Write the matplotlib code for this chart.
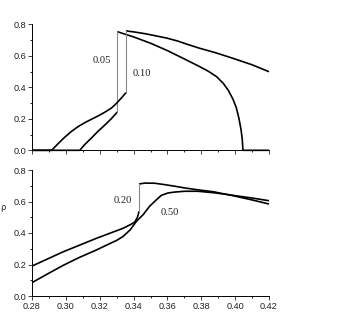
import matplotlib
matplotlib.use("Agg")
import matplotlib.pyplot as plt
from matplotlib.ticker import MultipleLocator

# top panel: eps = 0.05 and 0.10, lower and upper branches
low05_x = [0.28, 0.3082, 0.3111, 0.3151, 0.3190, 0.3229, 0.3269, 0.3304]
low05_y = [0.0, 0.0, 0.036, 0.078, 0.121, 0.159, 0.201, 0.243]
up05_x = [0.3304, 0.340, 0.350, 0.360, 0.370, 0.378, 0.384, 0.389, 0.393,
          0.396, 0.3987, 0.4007, 0.4022, 0.4035, 0.4042, 0.4046, 0.42]
up05_y = [0.753, 0.720, 0.680, 0.633, 0.580, 0.537, 0.503, 0.468, 0.425,
          0.380, 0.325, 0.270, 0.205, 0.130, 0.070, 0.0, 0.0]

low10_x = [0.28, 0.2916, 0.2954, 0.2993, 0.3033, 0.3072, 0.3111, 0.3151,
           0.3190, 0.3229, 0.3269, 0.3299, 0.3328, 0.3355]
low10_y = [0.0, 0.0, 0.042, 0.083, 0.120, 0.150, 0.175, 0.197,
           0.218, 0.241, 0.268, 0.298, 0.332, 0.366]
up10_x = [0.3355, 0.340, 0.347, 0.353, 0.3594, 0.366, 0.372, 0.379, 0.3889,
          0.3987, 0.410, 0.42]
up10_y = [0.758, 0.752, 0.740, 0.727, 0.713, 0.694, 0.672, 0.648, 0.618,
          0.584, 0.543, 0.499]

# bottom panel: eps = 0.20 (with jump) and 0.50 (continuous)
low20_x = [0.28, 0.2985, 0.318, 0.3338, 0.3385, 0.3407, 0.3423, 0.3430, 0.3432]
low20_y = [0.190, 0.281, 0.366, 0.430, 0.455, 0.470, 0.500, 0.527, 0.538]
up20_x = [0.3432, 0.3466, 0.3525, 0.3584, 0.3643, 0.3702, 0.378, 0.3871,
          0.400, 0.410, 0.42]
up20_y = [0.711, 0.717, 0.716, 0.707, 0.697, 0.686, 0.674, 0.662,
          0.634, 0.610, 0.584]

c50_x = [0.28, 0.29, 0.2985, 0.308, 0.318, 0.326, 0.330, 0.3338, 0.338,
         0.3417, 0.3456, 0.3495, 0.3535, 0.3564, 0.3603, 0.3643, 0.3702,
         0.378, 0.3871, 0.395, 0.400, 0.410, 0.42]
c50_y = [0.085, 0.145, 0.195, 0.245, 0.292, 0.333, 0.353, 0.378, 0.420,
         0.474, 0.516, 0.570, 0.611, 0.639, 0.654, 0.660, 0.665,
         0.665, 0.656, 0.645, 0.637, 0.622, 0.605]

labels_top = ["0.05", "0.10"]
labels_bot = ["0.20", "0.50"]

W, H = 338, 322
fig = plt.figure(figsize=(W / 100, H / 100), dpi=100)
ax1 = fig.add_axes([32 / W, (H - 150.3) / H, 237 / W, 126 / H])
ax2 = fig.add_axes([32 / W, (H - 296) / H, 237 / W, 126 / H])

for ax in (ax1, ax2):
    ax.set_xlim(0.28, 0.42)
    ax.set_ylim(0.0, 0.8)
    ax.spines['top'].set_visible(False)
    ax.spines['right'].set_visible(False)
    for s in ('left', 'bottom'):
        ax.spines[s].set_linewidth(0.7)
    ax.xaxis.set_major_locator(MultipleLocator(0.02))
    ax.xaxis.set_minor_locator(MultipleLocator(0.01))
    ax.yaxis.set_major_locator(MultipleLocator(0.2))
    ax.yaxis.set_minor_locator(MultipleLocator(0.1))
    ax.tick_params(which='major', length=2.8, width=0.6, direction='out',
                   labelsize=6.6, colors='#222222', pad=1.5)
    ax.tick_params(which='minor', length=1.5, width=0.6, direction='out')
    for lab in ax.get_xticklabels() + ax.get_yticklabels():
        lab.set_family('Liberation Sans')
    ax.yaxis.set_major_formatter(plt.FormatStrFormatter('%.1f'))
    ax.xaxis.set_major_formatter(plt.FormatStrFormatter('%.2f'))

ax1.tick_params(labelbottom=False)

kw = dict(color='black', lw=1.2, solid_capstyle='butt', solid_joinstyle='round',
          clip_on=False)
gkw = dict(color='#8a8a8a', lw=0.8)

# top panel
ax1.plot(low05_x, low05_y, **kw)
ax1.plot(up05_x, up05_y, **kw)
ax1.plot([low05_x[-1], up05_x[0]], [low05_y[-1], up05_y[0]], **gkw)
ax1.plot(low10_x, low10_y, **kw)
ax1.plot(up10_x, up10_y, **kw)
ax1.plot([low10_x[-1], up10_x[0]], [low10_y[-1], up10_y[0]], **gkw)
ax1.text(0.3212, 0.573, labels_top[0], family='Liberation Serif', fontsize=7.6,
         ha='center', va='center', color='#222222')
ax1.text(0.345, 0.489, labels_top[1], family='Liberation Serif', fontsize=7.6,
         ha='center', va='center', color='#222222')

# bottom panel
ax2.plot(low20_x, low20_y, **kw)
ax2.plot(up20_x, up20_y, **kw)
ax2.plot([low20_x[-1], up20_x[0]], [low20_y[-1], up20_y[0]], **gkw)
ax2.plot(c50_x, c50_y, **kw)
ax2.text(0.3338, 0.605, labels_bot[0], family='Liberation Serif', fontsize=7.6,
         ha='center', va='center', color='#222222')
ax2.text(0.3613, 0.529, labels_bot[1], family='Liberation Serif', fontsize=7.6,
         ha='center', va='center', color='#222222')

# y label at the very left edge
fig.text(0.0, (H - 208) / H, "ρ", family='DejaVu Sans', fontsize=6,
         ha='left', va='center', color='#222222')

fig.savefig("out.png", dpi=100)
